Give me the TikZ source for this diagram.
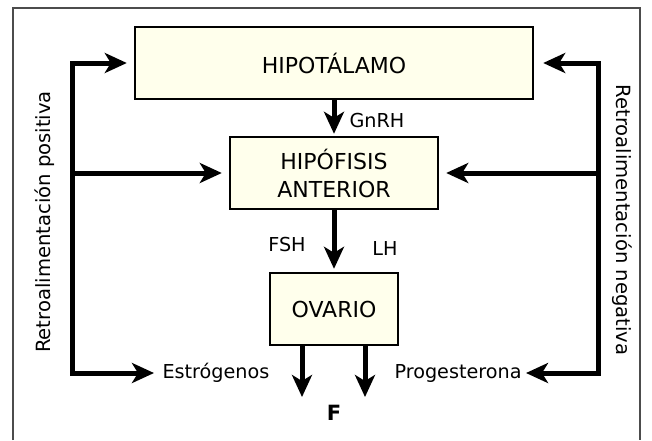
\documentclass[tikz,border=0pt]{standalone}
\usepackage{fontspec}
\setmainfont{DejaVu Sans}
\usetikzlibrary{arrows.meta}
\definecolor{crema}{RGB}{255,255,236}

\begin{document}
\begin{tikzpicture}[x=1pt,y=-1pt,line width=1pt,
  caja/.style={draw,line width=2.4pt,fill=crema,minimum height=72pt,inner sep=0pt,align=center,font=\fontsize{22}{28}\selectfont},
  flecha/.style={line width=5pt,line join=miter,-{Stealth[length=22pt,width=20pt,inset=6pt]}},
  rotulo/.style={inner sep=0pt,font=\fontsize{19.2}{22}\selectfont}]
\useasboundingbox (0,0) rectangle (652,440);
\draw[line width=1.5pt,black!70] (13,440)--(13,8)--(640,8)--(640,440);
\node[caja,minimum width=398pt] (hipo) at (334,63) {HIPOT\'ALAMO};
\node[caja,minimum width=208pt] (hipof) at (334,173) {HIP\'OFISIS\\ANTERIOR};
\node[caja,minimum width=128pt] (ova) at (334,309) {OVARIO};
\node[rotulo,anchor=west] (gnrh) at (349,121) {GnRH};
\node[rotulo] (fsh) at (287,245) {FSH};
\node[rotulo] (lh) at (385,248) {LH};
\node[rotulo,anchor=west] (estro) at (162,373) {Estr\'ogenos};
\node[rotulo,anchor=east] (proge) at (522,373) {Progesterona};
\node[rotulo,font=\fontsize{21}{24}\selectfont\bfseries] (f) at (334,413) {F};
\node[inner sep=0pt,font=\fontsize{19.6}{24}\selectfont,rotate=90] (pos) at (45,222) {Retroalimentaci\'on positiva};
\node[inner sep=0pt,font=\fontsize{19.6}{24}\selectfont,rotate=-90] (neg) at (622,220) {Retroalimentaci\'on negativa};
\coordinate (lt) at (72,63);
\coordinate (lb) at (72,373);
\coordinate (rt) at (598,63);
\coordinate (rb) at (598,373);
\coordinate (sal1) at (302,397);
\coordinate (sal2) at (365,397);
\draw[flecha,shorten >=2pt] (hipo) -- (hipof);
\draw[flecha,shorten >=3pt] (hipof) -- (ova);
\draw[flecha] (ova.south -| sal1) -- (sal1);
\draw[flecha] (ova.south -| sal2) -- (sal2);
\draw[flecha,shorten >=7pt] (lb) -- (lt) -- (hipo.west);
\draw[flecha,shorten >=7pt] (lt |- hipof.west) -- (hipof.west);
\draw[flecha,shorten >=8pt] (lt) -- (lb) -- (estro.west);
\draw[flecha,shorten >=9pt] (rb) -- (rt) -- (hipo.east);
\draw[flecha,shorten >=7pt] (rt |- hipof.east) -- (hipof.east);
\draw[flecha,shorten >=4pt] (rt) -- (rb) -- (proge.east);
\end{tikzpicture}
\end{document}
